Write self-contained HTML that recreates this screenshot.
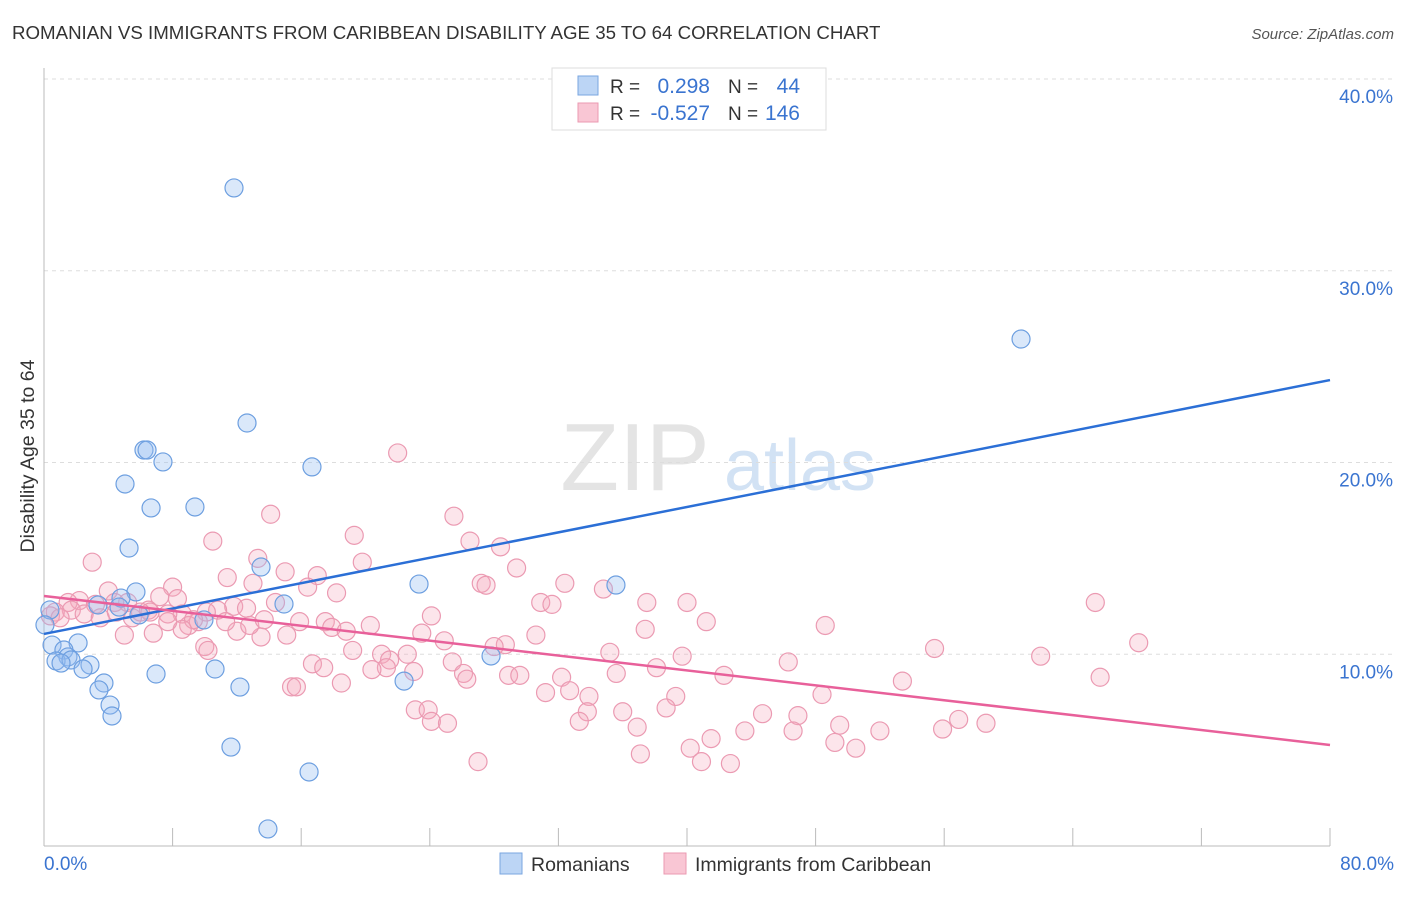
<!DOCTYPE html>
<html><head><meta charset="utf-8"><style>
body{margin:0;background:#fff;font-family:"Liberation Sans",sans-serif;}
svg text{font-family:"Liberation Sans",sans-serif;}
</style></head><body>
<svg id="c" width="1406" height="892">
<text x="12" y="39" font-size="18.7" fill="#333">ROMANIAN VS IMMIGRANTS FROM CARIBBEAN DISABILITY AGE 35 TO 64 CORRELATION CHART</text>
<text x="1394" y="39" font-size="15" fill="#555" font-style="italic" text-anchor="end">Source: ZipAtlas.com</text>
<text x="0" y="0" transform="translate(34,456) rotate(-90)" font-size="19.5" fill="#333" text-anchor="middle">Disability Age 35 to 64</text>
<g><text x="635" y="490" font-size="96" fill="#e4e4e4" font-family="Liberation Serif" text-anchor="middle">ZIP</text><text x="800" y="490" font-size="72" fill="#d2e2f4" text-anchor="middle">atlas</text></g>
<g id="grid"></g><g id="pts"></g><g id="trend"></g>
<g>
<rect x="552" y="68" width="274" height="62" fill="#fff" stroke="#ddd"/>
<rect x="578" y="76" width="20" height="19" fill="#bcd5f5" stroke="#7aa6e0"/>
<rect x="578" y="103" width="20" height="19" fill="#f9c6d4" stroke="#eb9ab2"/>
<text x="610" y="93" font-size="19" fill="#333">R =</text><text x="710" y="93" font-size="21" fill="#3a74d0" text-anchor="end">0.298</text>
<text x="728" y="93" font-size="19" fill="#333">N =</text><text x="800" y="93" font-size="21" fill="#3a74d0" text-anchor="end">44</text>
<text x="610" y="120" font-size="19" fill="#333">R =</text><text x="710" y="120" font-size="21" fill="#3a74d0" text-anchor="end">-0.527</text>
<text x="728" y="120" font-size="19" fill="#333">N =</text><text x="800" y="120" font-size="21" fill="#3a74d0" text-anchor="end">146</text>
</g>
<g>
<rect x="500" y="853" width="22" height="21" fill="#bcd5f5" stroke="#7aa6e0"/>
<text x="531" y="871" font-size="19.5" fill="#333">Romanians</text>
<rect x="664" y="853" width="22" height="21" fill="#f9c6d4" stroke="#eb9ab2"/>
<text x="695" y="871" font-size="19.5" fill="#333">Immigrants from Caribbean</text>
</g>
</svg>
<script>
const xTicks=[0,8,16,24,32,40,48,56,64,72,80];
const yTicks=[10,20,30,40];
const yTickLabels=["10.0%","20.0%","30.0%","40.0%"];
const blueX=[11.82,60.78,12.63,6.22,6.41,7.40,16.67,5.04,6.66,9.39,5.29,13.50,23.33,35.58,5.72,4.79,3.36,14.93,4.67,5.91,9.95,2.12,0.50,1.24,1.49,0.75,1.68,1.06,2.86,2.43,27.81,6.97,10.64,3.73,3.42,12.19,22.40,4.11,4.23,11.63,16.49,13.93,0.37,0.06];
const blueY=[34.32,26.44,22.06,20.65,20.65,20.03,19.77,18.88,17.63,17.68,15.54,14.55,13.66,13.61,13.25,12.93,12.57,12.62,12.46,12.05,11.79,10.59,10.48,10.22,9.86,9.65,9.70,9.54,9.44,9.23,9.91,8.97,9.23,8.50,8.14,8.29,8.60,7.35,6.78,5.16,3.86,0.89,12.31,11.53];
const pinkX=[22.0,25.5,14.1,19.3,10.5,26.5,28.4,3.0,13.3,19.8,29.4,15.0,11.4,17.0,27.2,27.5,32.4,34.8,13.0,8.0,16.4,18.2,4.0,7.2,8.3,2.2,1.5,5.2,3.2,4.4,6.5,6.6,30.9,31.6,37.5,40.0,65.4,11.8,12.6,10.8,14.4,1.7,8.6,10.1,5.5,9.6,9.0,9.3,15.9,17.5,17.9,20.3,24.1,41.2,48.6,37.4,18.8,5.0,6.8,12.0,13.5,15.1,23.5,24.9,28.7,30.6,68.1,10.0,10.2,19.2,21.0,22.6,55.4,35.2,28.0,16.7,17.4,21.5,21.3,25.4,39.7,38.1,46.3,62.0,20.4,23.0,26.1,26.3,28.9,29.6,32.2,35.6,42.3,18.5,15.4,15.7,31.2,32.7,33.9,39.3,48.4,53.4,65.7,23.1,23.9,33.8,36.0,38.7,44.7,46.9,24.1,25.1,33.3,36.9,43.6,46.6,49.5,52.0,55.9,56.9,58.6,41.5,49.2,50.5,40.2,37.1,27.0,40.9,42.7,0.7,0.4,1.0,2.5,3.5,4.5,6.0,7.7,8.6,7.7,11.3,12.8,13.7];
const pinkY=[20.5,17.2,17.3,16.2,15.9,15.9,15.6,14.8,15.0,14.8,14.5,14.3,14.0,14.1,13.7,13.6,13.7,13.4,13.7,13.5,13.5,13.2,13.3,13.0,12.9,12.8,12.7,12.7,12.6,12.7,12.3,12.2,12.7,12.6,12.7,12.7,12.7,12.5,12.4,12.3,12.7,12.3,12.1,12.2,11.9,11.7,11.5,11.8,11.7,11.7,11.4,11.5,12.0,11.7,11.5,11.3,11.2,11.0,11.1,11.2,10.9,11.0,11.1,10.7,10.5,11.0,10.6,10.4,10.2,10.2,10.0,10.0,10.3,10.1,10.4,9.5,9.3,9.7,9.3,9.6,9.9,9.3,9.6,9.9,9.2,9.1,9.0,8.7,8.9,8.9,8.8,9.0,8.9,8.5,8.3,8.3,8.0,8.1,7.8,7.8,7.9,8.6,8.8,7.1,7.1,7.0,7.0,7.2,6.9,6.8,6.5,6.4,6.5,6.2,6.0,6.0,6.3,6.0,6.1,6.6,6.4,5.6,5.4,5.1,5.1,4.8,4.4,4.4,4.3,12.2,12.0,11.9,12.1,11.9,12.2,12.2,12.1,11.3,11.7,11.7,11.5,11.8];
const blueTrend=[11.06,24.3];
const pinkTrend=[13.04,5.27];
const NS="http://www.w3.org/2000/svg";
const X=v=>44+v*(1286/80);
const Y=v=>846-v*19.175;
function mk(tag,attrs,parent){const e=document.createElementNS(NS,tag);for(const k in attrs)e.setAttribute(k,attrs[k]);parent.appendChild(e);return e;}
const grid=document.getElementById('grid');
yTicks.forEach((t,i)=>{
 const l=mk('line',{x1:44,x2:1395,y1:Y(t),y2:Y(t),stroke:'#ddd','stroke-dasharray':'4,4'},grid);
 
 
 const tx=mk('text',{x:1393,y:Y(t)+24,'font-size':19,fill:'#3a74d0','text-anchor':'end'},grid);
 tx.textContent=yTickLabels[i];
 
 
});
const ax=mk('line',{x1:44,x2:44,y1:68,y2:846,stroke:'#bbb'},grid);


const bx=mk('line',{x1:44,x2:1330,y1:846,y2:846,stroke:'#bbb'},grid);


xTicks.forEach(t=>{
 const l=mk('line',{x1:X(t),x2:X(t),y1:828,y2:846,stroke:'#bbb'},grid);
 
 
});
const x0=mk('text',{x:44,y:870,'font-size':19,fill:'#3a74d0'},grid);x0.textContent='0.0%';


const x1=mk('text',{x:1394,y:870,'font-size':19,fill:'#3a74d0','text-anchor':'end'},grid);x1.textContent='80.0%';


const pts=document.getElementById('pts');
pinkX.forEach((v,i)=>{
 const c=mk('circle',{cx:X(v),cy:Y(pinkY[i]),r:9,fill:'rgba(244,168,190,0.3)',stroke:'#eb9ab2','stroke-width':1.2},pts);
 
 
});
blueX.forEach((v,i)=>{
 const c=mk('circle',{cx:X(v),cy:Y(blueY[i]),r:9,fill:'rgba(150,190,240,0.35)',stroke:'#6d9fe0','stroke-width':1.2},pts);
 
 
});
const tr=document.getElementById('trend');
const lb=mk('line',{x1:X(0),y1:Y(blueTrend[0]),x2:X(80),y2:Y(blueTrend[1]),stroke:'#2b6fd6','stroke-width':2.5},tr);


const lp=mk('line',{x1:X(0),y1:Y(pinkTrend[0]),x2:X(80),y2:Y(pinkTrend[1]),stroke:'#e8609a','stroke-width':2.5},tr);


</script>
</body></html>
